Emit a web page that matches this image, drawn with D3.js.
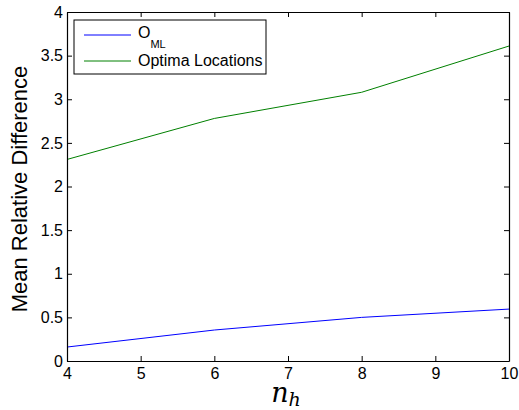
<!DOCTYPE html>
<html><head><meta charset="utf-8">
<script src="https://cdn.jsdelivr.net/npm/d3@7"></script>
<style>body{margin:0;background:#fff}svg{display:block}</style>
</head><body>
<svg id="c" width="519" height="410"></svg>
<script>
const nh = [4, 6, 8, 10];
const omlValues = [0.16, 0.355, 0.50, 0.595];
const optimaValues = [2.31, 2.78, 3.08, 3.61];
const xTicks = [4, 5, 6, 7, 8, 9, 10];
const yTicks = [0, 0.5, 1, 1.5, 2, 2.5, 3, 3.5, 4];
const seriesNames = ["O", "Optima Locations"];

const svg = d3.select("#c");
const L = 67, R = 509, T = 12, B = 361;
const x = d3.scaleLinear().domain([4, 10]).range([L, R]);
const y = d3.scaleLinear().domain([0, 4]).range([B, T]);
const font = "Liberation Sans, Arial, Helvetica, sans-serif";

svg.append("rect").attr("x", L).attr("y", T).attr("width", R - L).attr("height", B - T)
  .attr("fill", "#fff");

const line = d3.line().x((d, i) => x(nh[i])).y(d => y(d));
svg.append("path").datum(omlValues).attr("d", line).attr("fill", "none")
  .attr("stroke", "#0000ff").attr("stroke-width", 1);
svg.append("path").datum(optimaValues).attr("d", line).attr("fill", "none")
  .attr("stroke", "#008000").attr("stroke-width", 1);

function styleAxis(g) {
  g.selectAll("path").attr("stroke", "#000");
  g.selectAll("line").attr("stroke", "#000");
  g.selectAll("text").attr("font-family", font).attr("font-size", 16).attr("fill", "#000");
}
const fmt = d3.format("");
svg.append("g").attr("transform", `translate(0,${B})`)
  .call(d3.axisBottom(x).tickValues(xTicks).tickFormat(fmt).tickSizeInner(-5).tickSizeOuter(0).tickPadding(7))
  .call(styleAxis);
svg.append("g").attr("transform", `translate(0,${T})`)
  .call(d3.axisTop(x).tickValues(xTicks).tickFormat("").tickSizeInner(-5).tickSizeOuter(0))
  .call(styleAxis);
svg.append("g").attr("transform", `translate(${L},0)`)
  .call(d3.axisLeft(y).tickValues(yTicks).tickFormat(fmt).tickSizeInner(-5).tickSizeOuter(0).tickPadding(4))
  .call(styleAxis);
svg.append("g").attr("transform", `translate(${R},0)`)
  .call(d3.axisRight(y).tickValues(yTicks).tickFormat("").tickSizeInner(-5).tickSizeOuter(0))
  .call(styleAxis);
svg.selectAll(".domain").attr("stroke-width", 1.2);

// axis labels
svg.append("text").attr("transform", `translate(27,189) rotate(-90)`)
  .attr("text-anchor", "middle").attr("font-family", font).attr("font-size", 22)
  .text("Mean Relative Difference");
const xl = svg.append("text").attr("x", 286).attr("y", 402).attr("text-anchor", "middle")
  .attr("font-family", "DejaVu Serif, Liberation Serif, serif").attr("font-style", "italic").attr("font-size", 27);
xl.append("tspan").text("n");
xl.append("tspan").attr("font-size", 19).attr("dy", 4).text("h");

// legend
const lg = svg.append("g");
lg.append("rect").attr("x", 74).attr("y", 20).attr("width", 192).attr("height", 54)
  .attr("fill", "#fff").attr("stroke", "#000").attr("stroke-width", 1);
const colors = ["#0000ff", "#008000"];
const ly = [35, 61];
const lb = [37.5, 65.7];
seriesNames.forEach((n, i) => {
  lg.append("line").attr("x1", 84).attr("x2", 131).attr("y1", ly[i]).attr("y2", ly[i])
    .attr("stroke", colors[i]);
  const t = lg.append("text").attr("x", 138).attr("y", lb[i])
    .attr("font-family", font).attr("font-size", 16).text(n);
  if (i === 0) t.append("tspan").attr("font-size", 11).attr("dy", 10.5).text("ML");
});
</script>
</body></html>
